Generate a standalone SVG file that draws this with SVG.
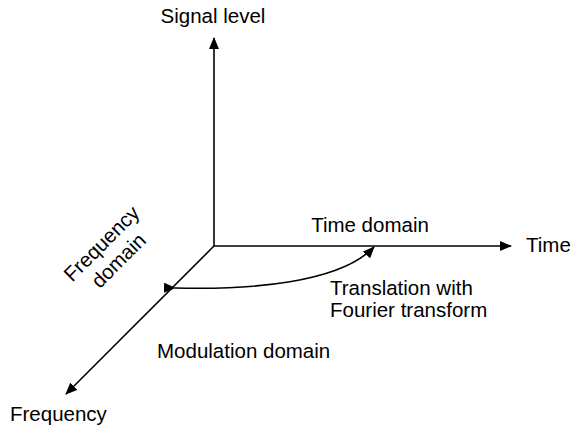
<svg xmlns="http://www.w3.org/2000/svg" width="571" height="428" viewBox="0 0 571 428">
<style>
text{font-family:"Liberation Sans",Arial,sans-serif;font-size:20.5px;fill:#000}
.ax{stroke:#000;stroke-width:1.6;fill:none}
</style>
<defs>
<marker id="ah" markerWidth="12" markerHeight="10" refX="11" refY="5" orient="auto" markerUnits="userSpaceOnUse">
<path d="M0,0 L12,5 L0,10 Z" fill="#000"/>
</marker>
</defs>
<g id="connectors">
<line class="ax" x1="214" y1="246" x2="214" y2="38" marker-end="url(#ah)"/>
<line class="ax" x1="214" y1="246" x2="511" y2="246" marker-end="url(#ah)"/>
<line class="ax" x1="214" y1="246" x2="66" y2="394" marker-end="url(#ah)"/>
<path class="ax" d="M175,288 C250,290 340,283 374,247" marker-start="url(#ah)" marker-end="url(#ah)"/>
</g>
<g id="signal-level"><text x="213" y="23" text-anchor="middle">Signal level</text></g>
<g id="time-domain"><text x="370" y="232" text-anchor="middle">Time domain</text></g>
<g id="time"><text x="526" y="252">Time</text></g>
<g id="translation"><text x="330" y="295">Translation with</text><text x="330" y="317">Fourier transform</text></g>
<g id="frequency-domain"><text transform="translate(110,252) rotate(-45)" text-anchor="middle"><tspan x="0" y="-5">Frequency</tspan><tspan x="0" y="19">domain</tspan></text></g>
<g id="modulation-domain"><text x="157" y="358">Modulation domain</text></g>
<g id="frequency"><text x="10" y="421">Frequency</text></g>
</svg>
